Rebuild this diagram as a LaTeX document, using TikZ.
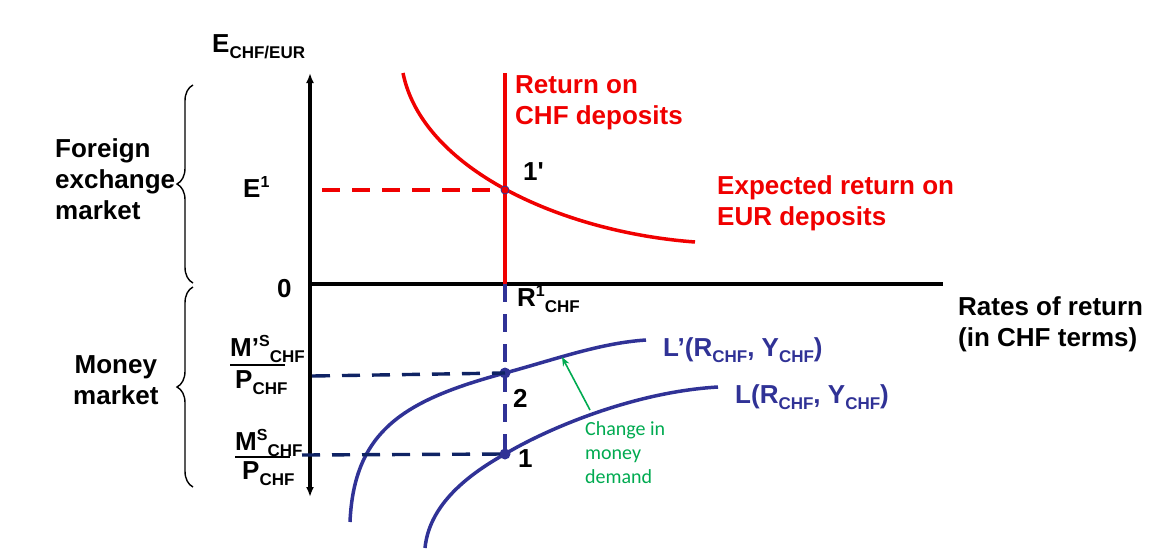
\documentclass[tikz,border=0pt]{standalone}
\usepackage{fontspec}
\setmainfont{Liberation Sans}
\newfontfamily\nomapfont[Ligatures=TeXOff]{Liberation Sans}
\newfontfamily\calfont{Carlito}
\usetikzlibrary{arrows.meta,decorations.pathreplacing}
\definecolor{cred}{RGB}{240,0,0}
\definecolor{cblue}{RGB}{48,50,150}
\definecolor{cnavy}{RGB}{15,35,100}
\definecolor{cgreen}{RGB}{0,170,80}
\newcommand\lsub[1]{\raisebox{-0.25em}{\fontsize{17}{17}\selectfont #1}}
\newcommand\lsup[1]{\raisebox{0.36em}{\fontsize{16}{16}\selectfont #1}}
\begin{document}
\begin{tikzpicture}[x=1pt,y=-1pt,
  lbl/.style={inner sep=0pt,font=\fontsize{26}{31}\selectfont\bfseries},
  axisline/.style={line width=3.4pt,black},
  redline/.style={line width=3.5pt,cred},
  blueline/.style={line width=3.5pt,cblue},
  dashline/.style={line width=3.4pt,dash pattern=on 18pt off 12pt},
  bracestyle/.style={line width=1.4pt,decorate,decoration={brace,amplitude=16pt}},
  dot/.style={circle,inner sep=0pt,minimum size=11pt,fill=cblue}]
\useasboundingbox (0,0) rectangle (1161,557);

% coordinates
\coordinate (o) at (310,284);
\coordinate (ytop) at (310,73);
\coordinate (ybot) at (310,497);
\coordinate (xend) at (943,284);
\coordinate (rtop) at (505,73);
\coordinate (rbot) at (505,284);
\coordinate (e1l) at (322,190);
\coordinate (m2l) at (312,376);
\coordinate (m1l) at (302,455);

% braces
\draw[bracestyle] (193,283) -- (193,85);
\draw[bracestyle] (193,487) -- (193,287);

% axes
\draw[axisline,{Latex[length=10pt,width=8pt]}-{Latex[length=10pt,width=8pt]}] (ytop) -- (ybot);
\draw[axisline] (o) -- (xend);

% red curves
\draw[redline] (403,73) .. controls (422,168) and (560,232) .. (695,242);
\draw[redline] (rtop) -- (rbot);
\node[circle,inner sep=0pt,minimum size=8pt,fill=cred,draw=cblue,line width=0.8pt] (p1p) at (505,190) {};
\draw[dashline,cred] (e1l) -- (p1p.center);

% money curves
\draw[blueline] (350,522) .. controls (354,430) and (405,400) .. (505,373)
                          .. controls (555,359.5) and (600,343) .. (646,340);
\draw[blueline] (425,548) .. controls (429,508) and (462,478) .. (505,454)
                          .. controls (545,430) and (632,392) .. (718,387);
\node[dot] (p2) at (505,373) {};
\node[dot] (p1) at (505,454) {};
\draw[dashline,cblue] (rbot) -- (p1.center);
\draw[dashline,cnavy] (m2l) -- (p2.center);
\draw[dashline,cnavy] (m1l) -- (p1.center);

% green arrow
\coordinate (ga) at (590,410);
\coordinate (gb) at (562,357);
\draw[cgreen,line width=1.6pt,-{Stealth[length=9pt,width=7pt]}] (ga) -- (gb);

% labels
\node[lbl,anchor=base west] (yl) at (212,52) {E\lsub{CHF/EUR}};
\node[lbl,anchor=base west] (e1) at (243,197) {E\lsup{1}};
\node[lbl,anchor=base west] (zero) at (277,297) {0};
\node[lbl,anchor=base west] (r1) at (517,306) {R\lsup{1}\lsub{CHF}};
\node[lbl,anchor=base west] (l1p) at (523,180) {\nomapfont 1'};
\node[lbl,anchor=base west] (l2) at (513,407) {2};
\node[lbl,anchor=base west] (l1) at (518,467) {1};

\node[lbl,anchor=north west,align=left] (fx) at (55,138) {Foreign\\exchange\\market};
\node[lbl,anchor=north west,align=center] (mm) at (73,355) {Money\\market};
\node[lbl,anchor=north west,align=left,text=cred] (ret) at (515,75) {Return on\\CHF deposits};
\node[lbl,anchor=north west,align=left,text=cred] (exp) at (717,175) {Expected return on\\EUR deposits};
\node[lbl,anchor=north west,align=left] (rr) at (958,296) {Rates of return\\(in CHF terms)};

\node[lbl,anchor=base west,text=cblue] (llp) at (663,356) {L’(R\lsub{CHF}, Y\lsub{CHF})};
\node[lbl,anchor=base west,text=cblue] (ll) at (735,403) {L(R\lsub{CHF}, Y\lsub{CHF})};

\node[inner sep=0pt,anchor=north west,align=left,text=cgreen,font=\calfont\fontsize{20}{24}\selectfont] (chg) at (585,421) {Change in\\money\\demand};

% fractions
\node[lbl,anchor=base west] (n1) at (230,356) {M’\lsup{S}\lsub{CHF}};
\node[lbl,anchor=base west] (d1) at (235,388) {P\lsub{CHF}};
\draw[line width=1.3pt] (230,365) -- (285,365);
\node[lbl,anchor=base west] (n2) at (235,450) {M\lsup{S}\lsub{CHF}};
\node[lbl,anchor=base west] (d2) at (242,479) {P\lsub{CHF}};
\draw[line width=1.3pt] (235,457) -- (290,457);
\end{tikzpicture}
\end{document}
